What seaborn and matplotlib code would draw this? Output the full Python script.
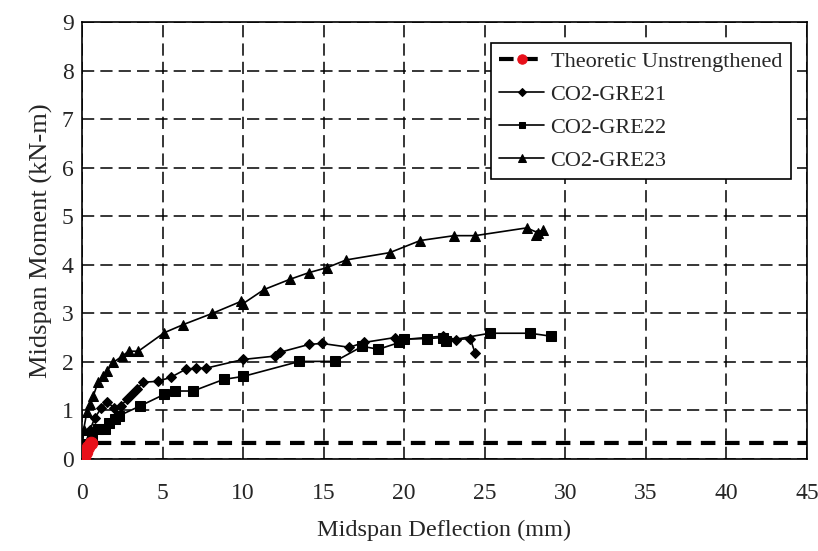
import pandas as pd
import seaborn as sns
import matplotlib.pyplot as plt

# Values (deflection mm, moment kN-m)
theo_x = [0.0, 0.1, 0.25, 0.4, 0.55, 45.0]
theo_y = [0.0, 0.05, 0.15, 0.25, 0.33, 0.33]

gre21_x = [0.0, 0.2, 0.5, 0.8, 1.2, 1.55, 2.0, 2.4, 2.8, 3.1, 3.4, 3.8, 4.7, 5.5, 6.45,
           7.1, 7.7, 10.0, 12.0, 12.3, 14.1, 14.9, 16.6, 17.5, 19.4, 19.9, 22.4, 23.2,
           24.1, 24.4]
gre21_y = [0.0, 0.3, 0.6, 0.85, 1.05, 1.18, 1.05, 1.09, 1.23, 1.33, 1.44, 1.58, 1.6, 1.68,
           1.85, 1.87, 1.87, 2.05, 2.12, 2.2, 2.36, 2.38, 2.3, 2.4, 2.5, 2.46, 2.53, 2.46,
           2.48, 2.18]

gre22_x = [0.0, 0.3, 0.6, 1.0, 1.45, 1.7, 2.05, 2.3, 3.6, 5.1, 5.8, 6.9, 8.8, 10.0,
           13.5, 15.7, 17.4, 18.4, 19.7, 20.0, 21.4, 22.4, 22.6, 25.3, 27.8, 29.1]
gre22_y = [0.0, 0.3, 0.5, 0.62, 0.62, 0.75, 0.82, 0.89, 1.09, 1.33, 1.4, 1.4, 1.64, 1.7,
           2.01, 2.01, 2.32, 2.26, 2.4, 2.47, 2.48, 2.5, 2.43, 2.59, 2.59, 2.53]

gre23_x = [0.0, 0.1, 0.3, 0.5, 0.7, 1.0, 1.3, 1.55, 1.95, 2.5, 2.9, 3.5, 5.1, 6.3, 8.1,
           9.9, 10.0, 11.3, 12.9, 14.1, 15.2, 16.4, 19.1, 21.0, 23.1, 24.4, 27.6, 28.3,
           28.6, 28.2]
gre23_y = [0.0, 0.6, 0.96, 1.13, 1.3, 1.58, 1.7, 1.81, 1.99, 2.12, 2.22, 2.22, 2.6, 2.77,
           3.0, 3.25, 3.2, 3.49, 3.7, 3.84, 3.94, 4.1, 4.25, 4.5, 4.6, 4.6, 4.76, 4.66,
           4.72, 4.62]

sns.set_style("white")
plt.rcParams['font.family'] = ['Liberation Serif', 'DejaVu Serif']

fig, ax = plt.subplots(figsize=(8.18, 5.51), dpi=100)
fig.subplots_adjust(left=0.1002, right=0.9866, bottom=0.167, top=0.960)

sns.lineplot(x=theo_x, y=theo_y, ax=ax, sort=False, estimator=None, color='black',
             linestyle=(0, (3.5, 2.3)), linewidth=3, marker='o', markersize=9,
             markerfacecolor='#e8101a', markeredgecolor='#e8101a',
             markevery=[1, 2, 3, 4], label='Theoretic Unstrengthened', zorder=5)
sns.lineplot(x=gre21_x, y=gre21_y, ax=ax, sort=False, estimator=None, color='black',
             linewidth=1.2, marker='D', markersize=5, markeredgecolor='black',
             label='CO2-GRE21')
sns.lineplot(x=gre22_x, y=gre22_y, ax=ax, sort=False, estimator=None, color='black',
             linewidth=1.2, marker='s', markersize=6.5, markeredgecolor='black',
             label='CO2-GRE22')
sns.lineplot(x=gre23_x, y=gre23_y, ax=ax, sort=False, estimator=None, color='black',
             linewidth=1.2, marker='^', markersize=7, markeredgecolor='black',
             label='CO2-GRE23')

ax.set_xlim(0, 45)
ax.set_ylim(0, 9)
ax.set_xticks(range(0, 46, 5))
ax.set_yticks(range(0, 10))
ax.grid(True, color='black', linestyle=(0, (8, 4)), linewidth=1.1)
for s in ax.spines.values():
    s.set_color('black')
    s.set_linewidth(1.2)
ax.tick_params(axis='x', labelsize=17, direction='in', length=0, pad=17)
ax.tick_params(axis='y', labelsize=17, direction='out', length=5, color='black',
               width=1.2, pad=1)
ax.set_xlabel('Midspan Deflection (mm)', fontsize=17.5, labelpad=12)
ax.set_ylabel('Midspan Moment (kN-m)', fontsize=19, labelpad=6)

leg = ax.legend(loc='upper right', fontsize=16, frameon=True, fancybox=False,
                edgecolor='black', framealpha=1, handlelength=2.0, borderpad=0.4,
                labelspacing=0.55, handletextpad=0.3, markerscale=0.75,
                bbox_to_anchor=(0.993, 0.978))
leg.get_frame().set_linewidth(1.2)

fig.savefig('out.png', dpi=100)
